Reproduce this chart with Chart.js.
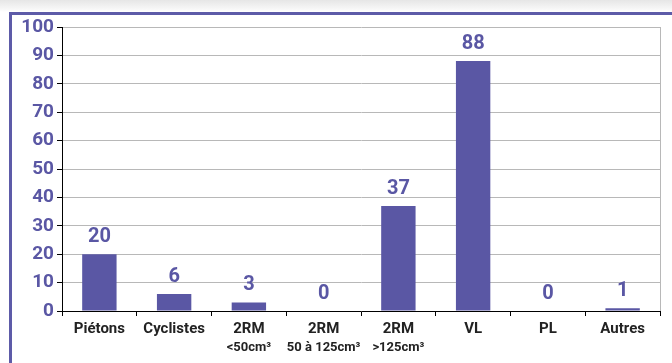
<!DOCTYPE html>
<html>
<head>
<meta charset="utf-8">
<script src="https://cdn.jsdelivr.net/npm/chart.js@4.4.1/dist/chart.umd.min.js"></script>
<style>
  html, body { margin: 0; padding: 0; }
  body {
    width: 672px; height: 363px; overflow: hidden; position: relative;
    background: linear-gradient(#e6e6e6 0px, #f7f7f7 9px, #ffffff 12px);
  }
  #frame {
    position: absolute; left: 9px; top: 12px; width: 700px; height: 400px;
    border-left: 3px solid #5d5ba8; border-top: 3px solid #5d5ba8;
    background: #fff;
  }
  #accidents { position: absolute; left: 0; top: 0; }
</style>
</head>
<body>
<div id="frame"></div>
<canvas id="accidents" width="672" height="363"></canvas>
<script>
var categories = ['Piétons', 'Cyclistes', '2RM', '2RM', '2RM', 'VL', 'PL', 'Autres'];
var subLabels = ['', '', '<50cm³', '50 à 125cm³', '>125cm³', '', '', ''];
var valeurs = [20, 6, 3, 0, 37, 88, 0, 1];
var yTicks = [0, 10, 20, 30, 40, 50, 60, 70, 80, 90, 100];

var violet = '#5a57a4';

// valeurs au-dessus des barres + deuxième ligne des étiquettes + bord droit
var extras = {
    id: 'extras',
    afterDatasetsDraw: function (chart) {
        var ctx = chart.ctx;
        var meta = chart.getDatasetMeta(0);
        ctx.save();
        ctx.fillStyle = violet;
        ctx.font = 'bold 20px Roboto';
        ctx.textAlign = 'center';
        ctx.textBaseline = 'bottom';
        meta.data.forEach(function (bar, i) {
            ctx.fillText(valeurs[i], bar.x, bar.y - 7);
        });
        ctx.restore();
    },
    afterDraw: function (chart) {
        var ctx = chart.ctx;
        var area = chart.chartArea;
        var x = chart.scales.x;
        ctx.save();
        ctx.strokeStyle = '#b8b8b8';
        ctx.lineWidth = 1;
        ctx.beginPath();
        ctx.moveTo(area.right + 0.5, area.top);
        ctx.lineTo(area.right + 0.5, area.bottom);
        ctx.stroke();
        ctx.fillStyle = '#222';
        ctx.font = 'bold 13px Roboto';
        ctx.textAlign = 'center';
        ctx.textBaseline = 'middle';
        subLabels.forEach(function (s, i) {
            if (s) ctx.fillText(s, x.getPixelForValue(i), 348);
        });
        ctx.restore();
    }
};

var ctx = document.getElementById('accidents').getContext('2d');
var chart = new Chart(ctx, {
    type: 'bar',
    data: {
        labels: categories,
        datasets: [{
            data: valeurs,
            backgroundColor: violet,
            borderWidth: 0,
            barPercentage: 0.46,
            categoryPercentage: 1
        }]
    },
    options: {
        responsive: false,
        animation: false,
        devicePixelRatio: 1,
        layout: { padding: { left: 0, right: 12, top: 27, bottom: 0 } },
        plugins: { legend: { display: false }, tooltip: { enabled: false } },
        scales: {
            x: {
                grid: { drawOnChartArea: false, drawTicks: true, tickLength: 5, color: '#000', offset: true },
                border: { color: '#000', width: 1 },
                ticks: { color: '#222', font: { family: 'Roboto', size: 15, weight: 'bold' }, padding: 4, maxRotation: 0, autoSkip: false },
                afterFit: function (s) { s.height = 52; }
            },
            y: {
                min: 0,
                max: 100,
                afterBuildTicks: function (s) { s.ticks = yTicks.map(function (v) { return { value: v }; }); },
                grid: { color: '#b8b8b8', tickColor: '#000', tickLength: 5 },
                border: { color: '#000', width: 1 },
                ticks: { color: violet, font: { family: 'Roboto', size: 19, weight: 'bold' }, padding: 3 },
                afterFit: function (s) { s.width = 62; }
            }
        }
    },
    plugins: [extras]
});
</script>
</body>
</html>
